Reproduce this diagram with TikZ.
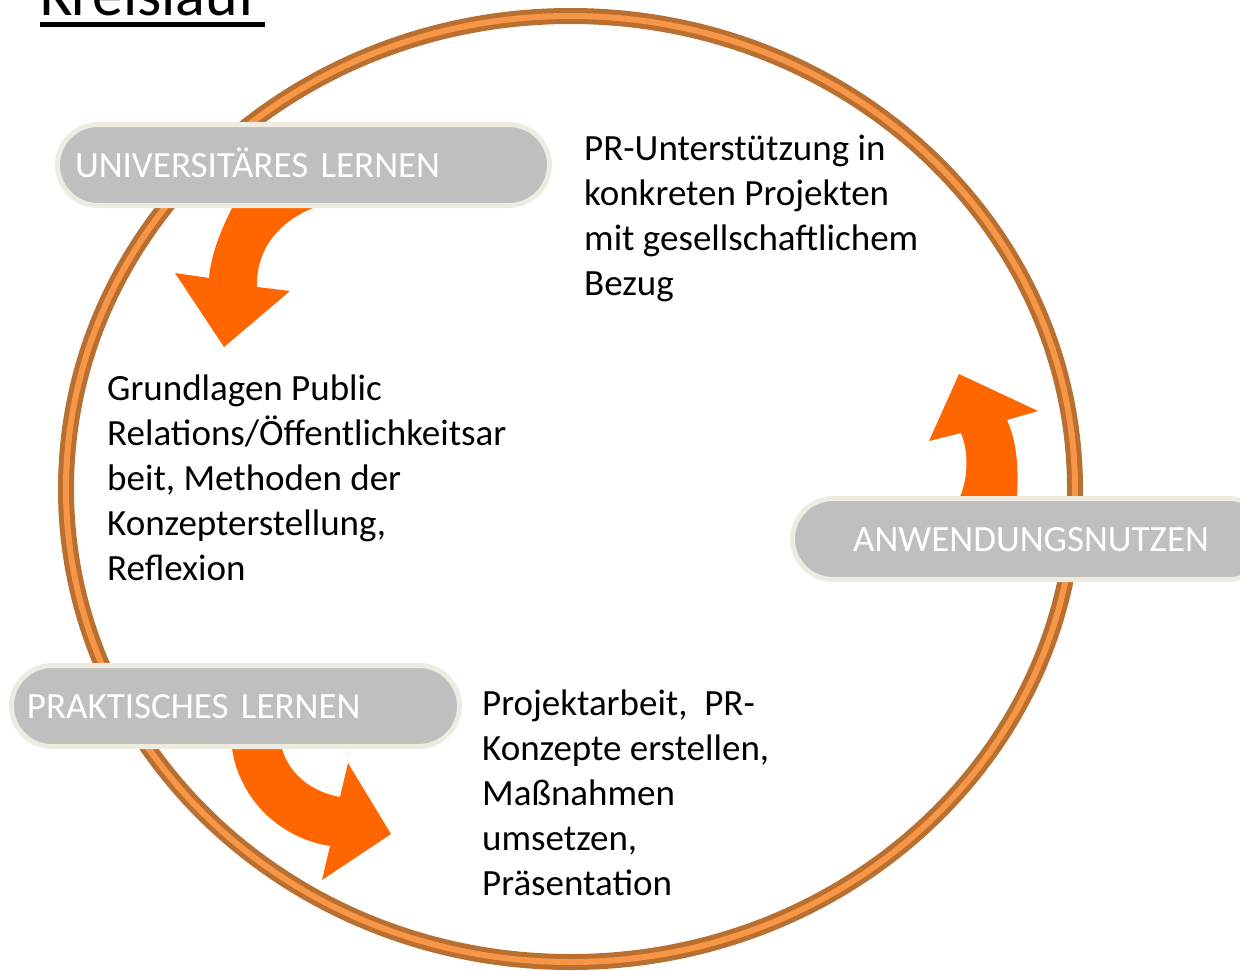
\documentclass[tikz,border=0pt]{standalone}
\usepackage{fontspec}
\setmainfont{Carlito}
\definecolor{ringdark}{HTML}{B86F30}
\definecolor{ringlight}{HTML}{F79646}
\definecolor{pillgray}{HTML}{BFBFBF}
\definecolor{pillrim}{HTML}{EEECE1}
\definecolor{arroworange}{HTML}{FF6600}
\begin{document}
\begin{tikzpicture}[x=1pt,y=-1pt,
  pill/.style={draw=pillrim, line width=5pt, fill=pillgray, rounded corners=40.5pt,
    text=white, font=\fontsize{37}{44}\selectfont, text height=24pt, text depth=0pt,
    minimum height=81pt},
  body/.style={align=left, inner sep=0pt, anchor=base west, font=\fontsize{37}{45}\selectfont},
  blockarrow/.style={fill=arroworange, draw=none}]
\useasboundingbox (0,0) rectangle (1240,970);
\clip (0,0) rectangle (1240,970);

% title
\node[inner sep=0pt, anchor=base west, font=\fontsize{62}{70}\selectfont] (title) at (40,15) {Kreislauf};
\draw[line width=5pt] ([yshift=-9.5pt]title.base west) -- ([yshift=-9.5pt,xshift=8pt]title.base east);

% the cycle ring
\draw[ringdark, line width=16pt] (570.5,489) ellipse [x radius=504.5, y radius=473];
\draw[ringlight, line width=6pt] (570.5,489) ellipse [x radius=504.5, y radius=473];

% curved block arrows
\fill[blockarrow] (232,200) -- (232,208) .. controls (220,232) and (211,255) .. (209,278)
  -- (175,273) -- (224,347) -- (290,291) -- (257,287)
  .. controls (256,250) and (278,222) .. (313,208) -- (313,200) -- cycle;
\fill[blockarrow] (960,505) -- (960,497) .. controls (969,475) and (968,450) .. (961,433)
  -- (929,441) -- (959,374) -- (1038,411) -- (1007,420)
  .. controls (1016,440) and (1019,465) .. (1017,497) -- (1017,505) -- cycle;
\fill[blockarrow] (282,740) -- (282,749) .. controls (290,775) and (312,792) .. (340,797)
  -- (348,763) -- (391,834) -- (322,880) -- (330,846)
  .. controls (280,838) and (240,800) .. (232,749) -- (232,740) -- cycle;

% stage labels
\node[pill, minimum width=492pt, inner xsep=17.5pt, text width=457pt, align=left] (uni) at (303.5,165) {UNIVERSITÄRES LERNEN};
\node[pill, minimum width=477pt] (nutzen) at (1031,539) {ANWENDUNGSNUTZEN};
\node[pill, minimum width=448pt, inner xsep=15.5pt, text width=417pt, align=left] (praxis) at (235.5,706) {PRAKTISCHES LERNEN};

% descriptions (anchored at the baseline of their last line)
\node[body] (t1) at (584,295) {PR-Unterstützung in\\konkreten Projekten\\mit gesellschaftlichem\\Bezug};
\node[body] (t2) at (107,580) {Grundlagen Public\\Relations/Öffentlichkeitsar\\beit, Methoden der\\Konzepterstellung,\\Reflexion};
\node[body] (t3) at (482,895) {Projektarbeit,\ \ PR-\\Konzepte erstellen,\\Maßnahmen\\umsetzen,\\Präsentation};
\end{tikzpicture}
\end{document}
